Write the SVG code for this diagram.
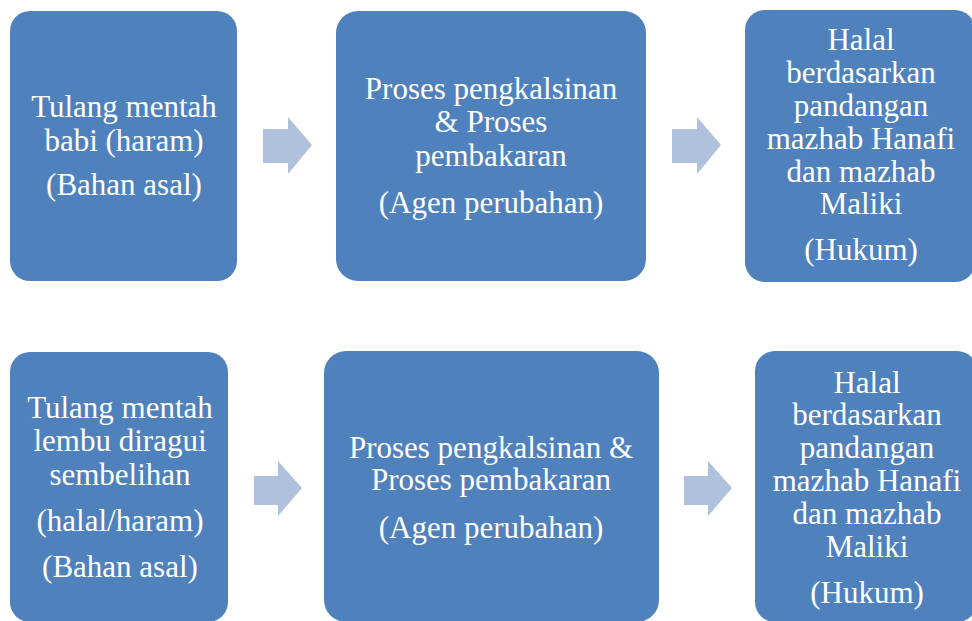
<svg xmlns="http://www.w3.org/2000/svg" width="972" height="621" viewBox="0 0 972 621">
<style>
.box{fill:#4F81BD;}
.arr{fill:#B0C1DD;}
text{font-family:"Liberation Serif","Times New Roman",serif;font-size:31px;fill:#FFFFFF;text-anchor:middle;}
</style>
<rect width="972" height="621" fill="#FFFFFF"/>
<g id="connectors">
<polygon class="arr" points="263,129 288,129 288,117 312,145 288,174 288,163 263,163"/>
<polygon class="arr" points="672,129 697,129 697,117 721,145 697,174 697,163 672,163"/>
<polygon class="arr" points="254,476 278,476 278,461 302,488 278,516 278,505 254,505"/>
<polygon class="arr" points="684,476 708,476 708,461 732,488 708,516 708,505 684,505"/>
</g>
<g id="n1">
<rect class="box" x="10" y="11" width="227" height="270" rx="20"/>
<text x="124" y="117">Tulang mentah</text>
<text x="124" y="151">babi (haram)</text>
<text x="124" y="195">(Bahan asal)</text>
</g>
<g id="n2">
<rect class="box" x="336" y="11" width="310" height="270" rx="22"/>
<text x="491" y="99">Proses pengkalsinan</text>
<text x="491" y="132">&amp; Proses</text>
<text x="491" y="166">pembakaran</text>
<text x="491" y="213">(Agen perubahan)</text>
</g>
<g id="n3">
<rect class="box" x="745" y="10" width="230" height="272" rx="20"/>
<text x="861" y="50">Halal</text>
<text x="861" y="83">berdasarkan</text>
<text x="861" y="116">pandangan</text>
<text x="861" y="149">mazhab Hanafi</text>
<text x="861" y="182">dan mazhab</text>
<text x="861" y="214">Maliki</text>
<text x="861" y="260">(Hukum)</text>
</g>
<g id="n4">
<rect class="box" x="10" y="352" width="218" height="270" rx="20"/>
<text x="120" y="418">Tulang mentah</text>
<text x="120" y="451">lembu diragui</text>
<text x="120" y="485">sembelihan</text>
<text x="120" y="531">(halal/haram)</text>
<text x="120" y="577">(Bahan asal)</text>
</g>
<g id="n5">
<rect class="box" x="324" y="351" width="335" height="271" rx="22"/>
<text x="491" y="458">Proses pengkalsinan &amp;</text>
<text x="491" y="490">Proses pembakaran</text>
<text x="491" y="538">(Agen perubahan)</text>
</g>
<g id="n6">
<rect class="box" x="755" y="351" width="222" height="271" rx="20"/>
<text x="867" y="393">Halal</text>
<text x="867" y="425">berdasarkan</text>
<text x="867" y="458">pandangan</text>
<text x="867" y="491">mazhab Hanafi</text>
<text x="867" y="524">dan mazhab</text>
<text x="867" y="557">Maliki</text>
<text x="867" y="603">(Hukum)</text>
</g>
</svg>
